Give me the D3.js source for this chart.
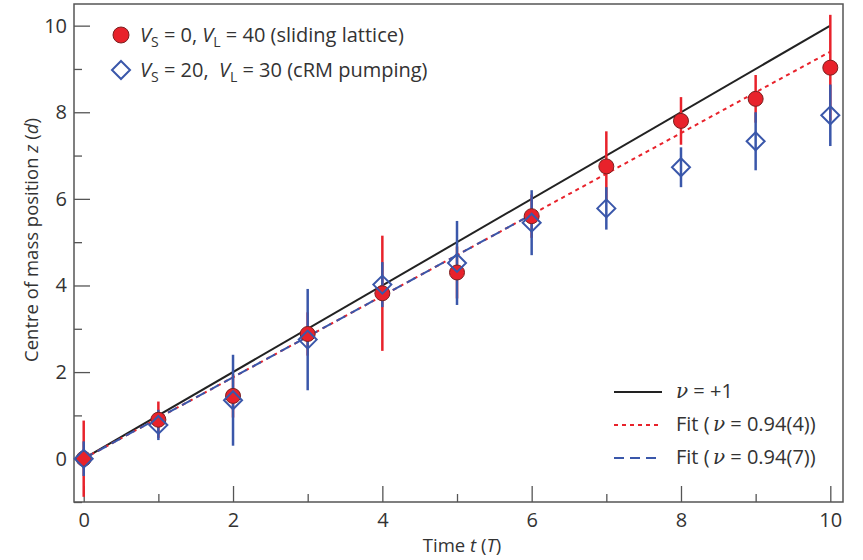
<!DOCTYPE html>
<html><head><meta charset="utf-8">
<script src="https://cdn.jsdelivr.net/npm/d3@7"></script>
<style>
body{margin:0;background:#fff;}
text{font-family:"Open Sans","Noto Sans",sans-serif;fill:#333;white-space:pre;}
</style></head>
<body><svg id="c" width="863" height="560"></svg>
<script>
const times = [0,1,2,3,4,5,6,7,8,9,10];
const slidingZ   = [0, 0.9, 1.45, 2.88, 3.82, 4.3, 5.6, 6.75, 7.8, 8.31, 9.03];
const slidingErr = [0.88, 0.42, 0.5, 0.5, 1.33, 0.6, 0.5, 0.81, 0.55, 0.55, 1.22];
const pumpZ      = [0, 0.78, 1.35, 2.75, 4.02, 4.52, 5.45, 5.78, 6.73, 7.33, 7.93];
const pumpErr    = [0.4, 0.35, 1.05, 1.17, 0.52, 0.97, 0.75, 0.49, 0.46, 0.67, 0.71];
const idealSlope = 1, fitSlope = 0.94, fitSlopePump = 0.94;
const idealRange = [0, 10], fitRange = [0, 10], fitPumpRange = [0, 6];
const xMajor = [0,2,4,6,8,10], xMinor = [1,3,5,7,9];
const yMajor = [0,2,4,6,8,10], yMinor = [-1,1,3,5,7,9];

const RED = "#e8222b", BLUE = "#3a57aa";
const svg = d3.select("#c");
const x = d3.scaleLinear().domain([-0.13, 10.17]).range([74, 843]);
const y = d3.scaleLinear().domain([-1, 10.5]).range([502, 4]);
const L = 74, R = 843, T = 4, B = 502;

// axes
const ax = svg.append("g");
ax.append("g").attr("transform",`translate(0,${B})`)
  .call(d3.axisBottom(x).tickValues(xMajor).tickSize(-16).tickPadding(11).tickFormat(d3.format("d")));
ax.append("g").attr("transform",`translate(0,${B})`)
  .call(d3.axisBottom(x).tickValues(xMinor).tickSize(-8).tickFormat(""));
ax.append("g").attr("transform",`translate(${L},0)`)
  .call(d3.axisLeft(y).tickValues(yMajor).tickSize(-16).tickPadding(7).tickFormat(d3.format("d")));
ax.append("g").attr("transform",`translate(${L},0)`)
  .call(d3.axisLeft(y).tickValues(yMinor).tickSize(-8).tickFormat(""));
ax.selectAll(".domain").remove();
ax.selectAll(".tick line").attr("stroke","#555").attr("stroke-width",1.3);
ax.selectAll(".tick text").attr("font-size",20).attr("fill","#333").style("font-family",'"Open Sans",sans-serif');
svg.append("rect").attr("x",L).attr("y",T).attr("width",R-L).attr("height",B-T)
  .attr("fill","none").attr("stroke","#555").attr("stroke-width",1.5);

// axis titles
const xt = svg.append("text").attr("x",462).attr("y",552).attr("text-anchor","middle").attr("font-size",18.5);
xt.append("tspan").text("Time ");
xt.append("tspan").attr("font-style","italic").text("t");
xt.append("tspan").text(" (");
xt.append("tspan").attr("font-style","italic").text("T");
xt.append("tspan").text(")");
const yt = svg.append("text").attr("transform","translate(38,240) rotate(-90)").attr("text-anchor","middle").attr("font-size",18.5);
yt.append("tspan").text("Centre of mass position ");
yt.append("tspan").attr("font-style","italic").text("z");
yt.append("tspan").text(" (");
yt.append("tspan").attr("font-style","italic").text("d");
yt.append("tspan").text(")");

// lines
const plot = svg.append("g");
function lineSeg(slope, range, color, dash, w){
  plot.append("line").attr("x1",x(range[0])).attr("y1",y(slope*range[0]))
    .attr("x2",x(range[1])).attr("y2",y(slope*range[1]))
    .attr("stroke",color).attr("stroke-width",w).attr("stroke-dasharray",dash);
}
lineSeg(idealSlope, idealRange, "#222", null, 2);
lineSeg(fitSlope, fitRange, RED, "4,4", 2);
lineSeg(fitSlopePump, fitPumpRange, BLUE, "10,6", 2);

// error bars
const idx = d3.range(times.length);
plot.selectAll(".er").data(idx).join("line")
  .attr("x1",i=>x(times[i])).attr("x2",i=>x(times[i]))
  .attr("y1",i=>y(Math.max(-1,slidingZ[i]-slidingErr[i]))).attr("y2",i=>y(slidingZ[i]+slidingErr[i]))
  .attr("stroke",RED).attr("stroke-width",2.5);
plot.selectAll(".eb").data(idx).join("line")
  .attr("x1",i=>x(times[i])).attr("x2",i=>x(times[i]))
  .attr("y1",i=>y(pumpZ[i]-pumpErr[i])).attr("y2",i=>y(pumpZ[i]+pumpErr[i]))
  .attr("stroke",BLUE).attr("stroke-width",2.5);
// markers
plot.selectAll(".c").data(idx).join("circle")
  .attr("cx",i=>x(times[i])).attr("cy",i=>y(slidingZ[i])).attr("r",7.5)
  .attr("fill",RED).attr("stroke","#7a2020").attr("stroke-width",1);
const dsz = 9;
plot.selectAll(".d").data(idx).join("path")
  .attr("d",i=>{const cx=x(times[i]), cy=y(pumpZ[i]);
    return `M${cx},${cy-dsz}L${cx+dsz},${cy}L${cx},${cy+dsz}L${cx-dsz},${cy}Z`;})
  .attr("fill","none").attr("stroke",BLUE).attr("stroke-width",2);

// top-left legend
const lg = svg.append("g");
lg.append("circle").attr("cx",121).attr("cy",35).attr("r",8).attr("fill",RED).attr("stroke","#7a2020");
lg.append("path").attr("d",`M121,61L130,70L121,79L112,70Z`).attr("fill","none").attr("stroke",BLUE).attr("stroke-width",2);
function legendText(yy, parts){
  const t = lg.append("text").attr("x",140).attr("y",yy).attr("font-size",20);
  parts.forEach(p=>{
    const s = t.append("tspan").text(p.t);
    if(p.i) s.attr("font-style","italic");
    if(p.sub) s.attr("font-size",14).attr("dy",5);
    if(p.up) s.attr("dy",-5);
  });
}
legendText(42,[{t:"V",i:1},{t:"S",sub:1},{t:" = 0, ",up:1},{t:"V",i:1},{t:"L",sub:1},{t:" = 40 (sliding lattice)",up:1}]);
legendText(77,[{t:"V",i:1},{t:"S",sub:1},{t:" = 20,  ",up:1},{t:"V",i:1},{t:"L",sub:1},{t:" = 30 (cRM pumping)",up:1}]);

// bottom-right legend
const lg2 = svg.append("g");
const rows = [{yy:392,c:"#222",d:null,parts:[{t:"ν",i:1},{t:" = +1"}]},
  {yy:425,c:RED,d:"4,4",parts:[{t:"Fit (\u2009"},{t:"ν",i:1},{t:" = 0.94(4))"}]},
  {yy:458,c:BLUE,d:"10,6",parts:[{t:"Fit (\u2009"},{t:"ν",i:1},{t:" = 0.94(7))"}]}];
rows.forEach(r=>{
  lg2.append("line").attr("x1",614).attr("x2",662).attr("y1",r.yy).attr("y2",r.yy)
    .attr("stroke",r.c).attr("stroke-width",2).attr("stroke-dasharray",r.d);
  const t = lg2.append("text").attr("x",676).attr("y",r.yy+6).attr("font-size",20);
  r.parts.forEach(p=>{const s=t.append("tspan").text(p.t); if(p.i) s.attr("font-style","italic").attr("font-family","DejaVu Serif");});
});
</script></body></html>
